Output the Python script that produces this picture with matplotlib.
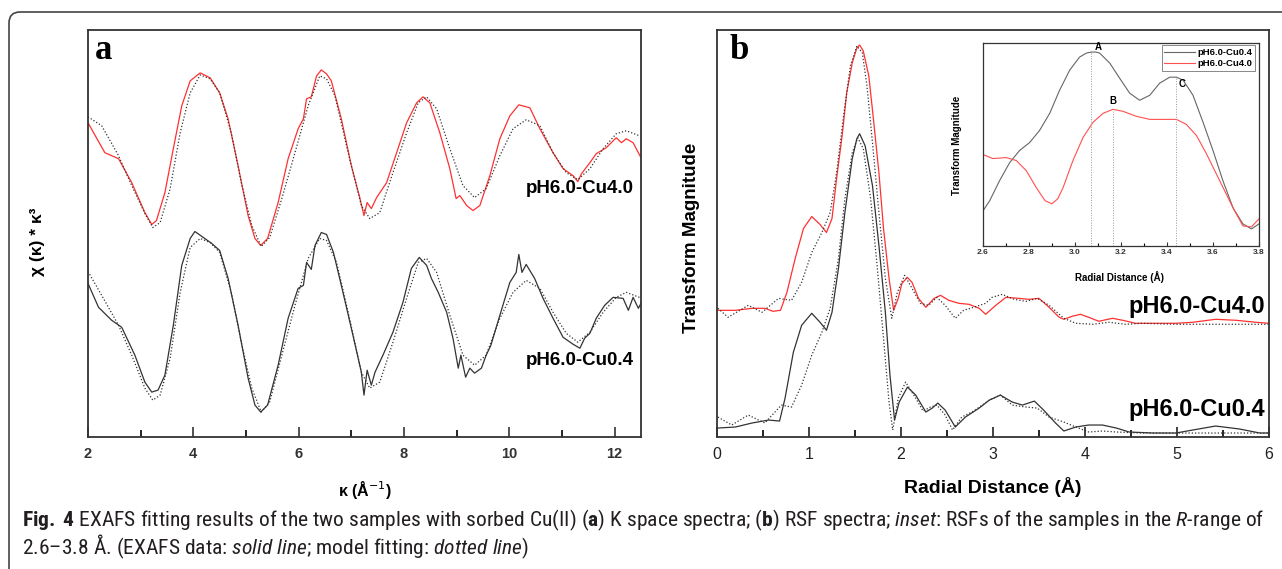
import matplotlib
matplotlib.use("Agg")
import matplotlib.pyplot as plt
from matplotlib import font_manager
from matplotlib.patches import FancyBboxPatch
from matplotlib.transforms import IdentityTransform
from matplotlib.ticker import MultipleLocator, FormatStrFormatter

plt.rcParams['font.family'] = ['Liberation Sans', 'DejaVu Sans']

# caption font: a narrow sans if one is installed
CAP_FONT = 'Liberation Sans'
for fam in ['Liberation Sans Narrow', 'Roboto Condensed', 'Open Sans Condensed',
            'DejaVu Sans Condensed']:
    try:
        font_manager.findfont(fam, fallback_to_default=False)
        CAP_FONT = fam
        break
    except ValueError:
        pass
plt.rcParams['mathtext.fontset'] = 'custom'
plt.rcParams['mathtext.rm'] = CAP_FONT
plt.rcParams['mathtext.bf'] = CAP_FONT + ':bold'
plt.rcParams['mathtext.it'] = CAP_FONT + ':italic'

# ---- panel a: k-space (arbitrary offset units) ----
k_cu40 = [2.00, 2.32, 2.58, 2.83, 3.08, 3.21, 3.30, 3.46, 3.62, 3.78, 3.94, 4.13, 4.32, 4.50,
          4.66, 4.85, 5.04, 5.17, 5.28, 5.41, 5.61, 5.80, 5.99, 6.09, 6.15, 6.24, 6.34, 6.43,
          6.53, 6.62, 6.81, 7.00, 7.16, 7.24, 7.30, 7.38, 7.48, 7.67, 7.86, 8.05, 8.24, 8.36,
          8.49, 8.68, 8.87, 8.99, 9.06, 9.19, 9.31, 9.44, 9.63, 9.82, 10.01, 10.18, 10.39,
          10.58, 10.83, 11.02, 11.21, 11.30, 11.37, 11.53, 11.65, 11.84, 12.03, 12.13, 12.22,
          12.35, 12.5]
chi_cu40 = [315, 285, 279, 255, 225, 213, 217, 245, 289, 332, 357, 365, 360, 345,
            319, 272, 222, 199, 192, 199, 235, 279, 309, 319, 339, 341, 362, 368,
            364, 357, 319, 272, 240, 222, 235, 229, 240, 255, 285, 315, 335, 341,
            335, 305, 269, 239, 242, 232, 227, 232, 262, 299, 322, 333, 330,
            309, 285, 269, 262, 256, 264, 275, 284, 290, 300, 295, 299,
            295, 280]

k_cu40_fit = [2.00, 2.26, 2.58, 2.83, 3.08, 3.23, 3.37, 3.56, 3.75, 3.94, 4.13, 4.32, 4.50,
              4.72, 4.91, 5.11, 5.29, 5.45, 5.68, 5.93, 6.18, 6.40, 6.53, 6.69, 6.94, 7.19,
              7.35, 7.54, 7.79, 8.05, 8.27, 8.43, 8.62, 8.87, 9.12, 9.34, 9.56, 9.82, 10.07,
              10.32, 10.58, 10.83, 11.08, 11.30, 11.53, 11.78, 12.03, 12.22, 12.47]
chi_cu40_fit = [321, 312, 282, 252, 224, 210, 215, 249, 305, 345, 363, 359, 345,
                305, 255, 212, 191, 200, 239, 285, 332, 362, 359, 342, 285, 232,
                219, 225, 265, 305, 335, 341, 329, 289, 252, 240, 249, 282, 309,
                318, 312, 285, 265, 258, 269, 289, 304, 307, 302]

k_cu04 = [2.00, 2.20, 2.45, 2.64, 2.89, 3.08, 3.21, 3.33, 3.46, 3.62, 3.78, 3.94, 4.03, 4.19,
          4.35, 4.50, 4.66, 4.85, 5.04, 5.17, 5.28, 5.41, 5.61, 5.80, 5.99, 6.09, 6.15, 6.24,
          6.31, 6.43, 6.53, 6.66, 6.81, 7.00, 7.19, 7.24, 7.30, 7.38, 7.45, 7.60, 7.79, 7.98,
          8.14, 8.29, 8.43, 8.52, 8.65, 8.81, 8.93, 9.03, 9.08, 9.17, 9.25, 9.34, 9.47, 9.56,
          9.65, 9.82, 10.01, 10.13, 10.18, 10.24, 10.32, 10.48, 10.64, 10.83, 11.02, 11.21,
          11.34, 11.43, 11.53, 11.65, 11.81, 11.97, 12.16, 12.26, 12.35, 12.45, 12.5]
chi_cu04 = [154, 130, 117, 110, 82, 55, 45, 47, 62, 112, 172, 199, 206, 200,
            194, 187, 159, 112, 59, 32, 25, 32, 72, 119, 149, 152, 175, 168,
            192, 205, 203, 185, 152, 109, 65, 42, 67, 52, 65, 82, 105, 135,
            169, 180, 172, 159, 145, 125, 99, 69, 82, 60, 69, 64, 69, 82,
            92, 122, 155, 165, 183, 165, 173, 159, 139, 119, 100, 93,
            89, 99, 104, 119, 132, 140, 139, 127, 140, 129, 134]

k_cu04_fit = [2.00, 2.26, 2.58, 2.83, 3.08, 3.23, 3.37, 3.56, 3.75, 3.94, 4.13, 4.32, 4.50,
              4.72, 4.91, 5.11, 5.29, 5.45, 5.68, 5.93, 6.18, 6.40, 6.53, 6.72, 6.94, 7.19,
              7.35, 7.54, 7.79, 8.05, 8.27, 8.43, 8.62, 8.87, 9.12, 9.34, 9.56, 9.82, 10.07,
              10.32, 10.58, 10.83, 11.08, 11.30, 11.53, 11.78, 12.03, 12.22, 12.47]
chi_cu04_fit = [166, 142, 112, 82, 49, 37, 42, 79, 145, 190, 199, 195, 185,
                145, 95, 49, 25, 35, 82, 132, 179, 199, 197, 175, 125, 65,
                49, 55, 95, 139, 175, 179, 165, 122, 82, 72, 82, 119, 145,
                157, 149, 125, 104, 95, 105, 125, 140, 145, 140]

# ---- panel b: R-space ----
r_cu40 = [0.01, 0.20, 0.38, 0.52, 0.61, 0.69, 0.76, 0.85, 0.94, 1.03, 1.12, 1.19, 1.25, 1.30,
          1.36, 1.41, 1.47, 1.52, 1.55, 1.59, 1.65, 1.70, 1.76, 1.81, 1.87, 1.92, 1.97, 2.01,
          2.07, 2.12, 2.19, 2.27, 2.36, 2.43, 2.52, 2.63, 2.74, 2.85, 2.92, 3.03, 3.14, 3.28,
          3.39, 3.50, 3.61, 3.72, 3.77, 3.86, 3.95, 4.04, 4.15, 4.30, 4.41, 4.55, 4.77, 4.99,
          5.17, 5.42, 5.64, 5.86, 6.0]
ft_cu40 = [127, 127, 129, 129, 126, 127, 145, 179, 209, 221, 213, 205, 219, 259,
           302, 345, 375, 390, 393, 387, 362, 319, 265, 209, 159, 127, 139, 154,
           160, 155, 139, 130, 139, 142, 137, 134, 133, 129, 123, 132, 140, 139,
           138, 139, 130, 120, 118, 121, 123, 120, 116, 119, 117, 114, 114, 114,
           115, 118, 117, 115, 114]

r_cu40_fit = [0.01, 0.12, 0.34, 0.49, 0.67, 0.81, 0.92, 1.03, 1.14, 1.23, 1.30, 1.38, 1.45,
              1.52, 1.58, 1.63, 1.69, 1.76, 1.83, 1.90, 1.96, 2.04, 2.12, 2.21, 2.30, 2.39,
              2.48, 2.59, 2.68, 2.79, 2.92, 2.99, 3.10, 3.23, 3.36, 3.48, 3.61, 3.77, 3.90,
              4.08, 4.26, 4.44, 4.62, 4.99, 6.0]
ft_cu40_fit = [129, 120, 132, 125, 139, 137, 155, 185, 205, 225, 265, 325, 372,
               392, 385, 352, 295, 225, 159, 119, 145, 162, 149, 134, 132, 140,
               132, 119, 127, 130, 134, 140, 143, 138, 136, 139, 132, 119, 114,
               113, 115, 113, 114, 113, 113]

r_cu04 = [0.01, 0.20, 0.38, 0.56, 0.68, 0.74, 0.83, 0.92, 1.03, 1.12, 1.19, 1.25, 1.32, 1.39,
          1.47, 1.52, 1.55, 1.61, 1.69, 1.76, 1.83, 1.88, 1.93, 1.98, 2.07, 2.16, 2.27, 2.34,
          2.40, 2.48, 2.59, 2.70, 2.85, 2.96, 3.08, 3.21, 3.32, 3.45, 3.55, 3.68, 3.77, 3.90,
          4.04, 4.19, 4.34, 4.48, 4.74, 4.99, 5.17, 5.42, 5.68, 5.90, 6.0]
ft_cu04 = [9, 10, 14, 17, 16, 39, 85, 112, 124, 115, 107, 125, 169, 225,
           279, 299, 304, 292, 252, 192, 125, 62, 17, 35, 50, 42, 25, 29,
           34, 27, 10, 20, 29, 37, 42, 35, 32, 36, 27, 14, 6, 10,
           12, 12, 9, 5, 4, 4, 7, 11, 8, 4, 4]

r_cu04_fit = [0.01, 0.16, 0.34, 0.52, 0.70, 0.81, 0.92, 1.03, 1.14, 1.23, 1.32, 1.39, 1.47,
              1.53, 1.59, 1.67, 1.74, 1.81, 1.87, 1.91, 1.97, 2.05, 2.14, 2.24, 2.32, 2.39,
              2.48, 2.56, 2.66, 2.79, 2.96, 3.08, 3.21, 3.36, 3.48, 3.61, 3.77, 3.90, 4.04,
              4.19, 4.34, 4.62, 6.0]
ft_cu04_fit = [20, 12, 22, 14, 32, 30, 52, 82, 105, 129, 179, 239, 285,
               300, 289, 239, 172, 99, 35, 7, 39, 55, 42, 26, 30, 32,
               22, 7, 20, 26, 37, 42, 32, 30, 29, 20, 15, 10, 5,
               6, 5, 4, 4]

# ---- inset: 2.6-3.8 A ----
r_in_cu04 = [2.600, 2.629, 2.672, 2.716, 2.759, 2.803, 2.846, 2.890, 2.933, 2.977, 3.020, 3.050,
             3.071, 3.090, 3.107, 3.151, 3.194, 3.238, 3.281, 3.325, 3.368, 3.412, 3.441,
             3.470, 3.513, 3.557, 3.600, 3.643, 3.687, 3.730, 3.767, 3.800]
ft_in_cu04 = [35, 45, 65, 83, 95, 103, 115, 132, 155, 175, 188, 192,
              193, 193, 192, 182, 167, 152, 145, 150, 162, 168, 168,
              165, 150, 123, 95, 65, 38, 22, 17, 22]
r_in_cu40 = [2.600, 2.643, 2.701, 2.745, 2.788, 2.832, 2.870, 2.900, 2.925, 2.948, 2.991, 3.035,
             3.078, 3.122, 3.165, 3.209, 3.267, 3.325, 3.397, 3.441, 3.484, 3.528, 3.571,
             3.629, 3.687, 3.730, 3.767, 3.800]
ft_in_cu40 = [91, 87, 88, 85, 75, 58, 45, 42, 47, 58, 85, 108,
              123, 132, 136, 134, 129, 126, 126, 126, 121, 110, 92,
              65, 38, 20, 19, 27]
peak_r = [3.07, 3.165, 3.44]
peak_top = [193, 136, 168]
peak_names = ['A', 'B', 'C']
peak_label_xy = [(3.10, 198), (3.165, 144), (3.467, 161)]

labels = ['pH6.0-Cu4.0', 'pH6.0-Cu0.4']

RED = '#ff3030'
DARK = '#333333'
DOT = (0, (1, 1.6))

W, H = 1282, 569
fig = plt.figure(figsize=(W / 100, H / 100), dpi=100)


def box(l, t, r, b):
    return [l / W, 1 - b / H, (r - l) / W, (b - t) / H]


def style_spines(ax, lw=1.3):
    for s in ax.spines.values():
        s.set_color(DARK)
        s.set_linewidth(lw)


# ---------------- panel a ----------------
ax_a = fig.add_axes(box(88, 30, 641, 437))
ax_a.plot(k_cu40, chi_cu40, color=RED, lw=0.9)
ax_a.plot(k_cu40_fit, chi_cu40_fit, color=DARK, lw=0.9, ls=DOT)
ax_a.plot(k_cu04, chi_cu04, color=DARK, lw=0.9)
ax_a.plot(k_cu04_fit, chi_cu04_fit, color=DARK, lw=0.9, ls=DOT)
ax_a.set_xlim(2, 12.5)
ax_a.set_ylim(0, 408)
ax_a.set_yticks([])
ax_a.xaxis.set_major_locator(MultipleLocator(2))
ax_a.xaxis.set_minor_locator(MultipleLocator(1))
ax_a.tick_params(axis='x', which='major', direction='in', length=7, width=1.2, pad=7,
                 labelsize=10.5, colors=DARK)
ax_a.tick_params(axis='x', which='minor', direction='in', length=5, width=1.2)
for lb in ax_a.get_xticklabels():
    lb.set_fontweight('bold')
style_spines(ax_a)
ax_a.text(12.36, 249, labels[0], ha='right', va='center', fontsize=13.5, fontweight='bold')
ax_a.text(12.36, 77, labels[1], ha='right', va='center', fontsize=13.5, fontweight='bold')
ax_a.text(0.028, 0.95, 'a', transform=ax_a.transAxes, ha='center', va='center',
          fontsize=25, fontweight='bold', family='Liberation Serif')
ax_a.set_ylabel('χ (κ) * κ³', fontsize=12.5, fontweight='bold')
ax_a.yaxis.set_label_coords(-0.078, 0.479)
ax_a.set_xlabel(r'κ (Å$^{-1}$)', fontsize=11.5, fontweight='bold', math_fontfamily='dejavusans')
ax_a.xaxis.set_label_coords(0.501, -0.102)

# ---------------- panel b ----------------
ax_b = fig.add_axes(box(717, 30, 1269, 437))
ax_b.plot(r_cu40, ft_cu40, color=RED, lw=0.9)
ax_b.plot(r_cu40_fit, ft_cu40_fit, color=DARK, lw=0.9, ls=DOT)
ax_b.plot(r_cu04, ft_cu04, color=DARK, lw=0.9)
ax_b.plot(r_cu04_fit, ft_cu04_fit, color=DARK, lw=0.9, ls=DOT)
ax_b.set_xlim(0, 6)
ax_b.set_ylim(0, 408)
ax_b.set_yticks([])
ax_b.xaxis.set_major_locator(MultipleLocator(1))
ax_b.xaxis.set_minor_locator(MultipleLocator(0.5))
ax_b.tick_params(axis='x', which='major', direction='in', length=7, width=1.2, pad=7,
                 labelsize=11.5, colors='#222222')
ax_b.tick_params(axis='x', which='minor', direction='in', length=5, width=1.2)
style_spines(ax_b)
ax_b.text(5.96, 131, labels[0], ha='right', va='center', fontsize=17, fontweight='bold')
ax_b.text(5.96, 28, labels[1], ha='right', va='center', fontsize=17, fontweight='bold')
ax_b.text(0.04, 0.95, 'b', transform=ax_b.transAxes, ha='center', va='center',
          fontsize=25, fontweight='bold', family='Liberation Serif')
ax_b.set_ylabel('Transform Magnitude', fontsize=13.5, fontweight='bold')
ax_b.yaxis.set_label_coords(-0.031, 0.489)
ax_b.set_xlabel('Radial Distance (Å)', fontsize=14, fontweight='bold')
ax_b.xaxis.set_label_coords(0.5, -0.098)

# ---------------- inset ----------------
ax_in = fig.add_axes(box(983, 43, 1259, 246))
ax_in.plot(r_in_cu04, ft_in_cu04, color='#666666', lw=0.8, label='pH6.0-Cu0.4')
ax_in.plot(r_in_cu40, ft_in_cu40, color='#ff5050', lw=0.8, label='pH6.0-Cu4.0')
ax_in.vlines(peak_r, 0, peak_top, colors='#999999', lw=0.7, linestyles=DOT)
for name, (xx, yy) in zip(peak_names, peak_label_xy):
    ax_in.text(xx, yy, name, ha='center', va='center', fontsize=7, fontweight='bold')
ax_in.set_xlim(2.6, 3.8)
ax_in.set_ylim(0, 202)
ax_in.set_yticks([])
ax_in.xaxis.set_major_locator(MultipleLocator(0.2))
ax_in.xaxis.set_minor_locator(MultipleLocator(0.1))
ax_in.xaxis.set_major_formatter(FormatStrFormatter('%.1f'))
ax_in.tick_params(axis='x', which='major', direction='in', length=3, width=0.8, pad=2.5,
                  labelsize=6, colors=DARK)
ax_in.tick_params(axis='x', which='minor', direction='in', length=2, width=0.8)
for lb in ax_in.get_xticklabels():
    lb.set_fontweight('bold')
style_spines(ax_in, lw=0.9)
ax_in.set_xlabel('Radial Distance (Å)', fontsize=7, fontweight='bold')
ax_in.xaxis.set_label_coords(0.496, -0.123)
ax_in.set_ylabel('Transform Magnitude', fontsize=7, fontweight='bold')
ax_in.yaxis.set_label_coords(-0.076, 0.497)
leg = ax_in.legend(loc='upper right', bbox_to_anchor=(0.986, 0.99), borderaxespad=0,
                   fancybox=False, edgecolor='#888888', framealpha=1,
                   prop={'size': 6.8, 'weight': 'bold'}, handlelength=3.2,
                   borderpad=0.3, labelspacing=0.25, handletextpad=0.3)
leg.get_frame().set_linewidth(0.7)

# ---------------- outer frame and caption ----------------
frame = FancyBboxPatch((9, -20), 1300, H - 12 + 20,
                       boxstyle='round,pad=0,rounding_size=11',
                       transform=IdentityTransform(), fill=False,
                       edgecolor='#444444', lw=1.2)
fig.add_artist(frame)

cap1 = (r'$\mathbf{Fig.}$ $\mathbf{4}$ EXAFS fitting results of the two samples with sorbed '
        r'Cu(II) ($\mathbf{a}$) K space spectra; ($\mathbf{b}$) RSF spectra; $\mathit{inset}$: '
        r'RSFs of the samples in the $\mathit{R}$-range of')
cap2 = (r'2.6–3.8 Å. (EXAFS data: $\mathit{solid\ line}$; model fitting: '
        r'$\mathit{dotted\ line}$)')
t1 = fig.text(22 / W, 1 - 526 / H, cap1, fontsize=13, family=CAP_FONT,
              color='#231f20', va='baseline')
t2 = fig.text(22 / W, 1 - 554 / H, cap2, fontsize=13, family=CAP_FONT,
              color='#231f20', va='baseline')
rend = fig.canvas.get_renderer()
w1 = t1.get_window_extent(renderer=rend).width
size = 13 * (1260 - 22) / w1
t1.set_fontsize(size)
t2.set_fontsize(size)

fig.savefig('out.png', dpi=100)
